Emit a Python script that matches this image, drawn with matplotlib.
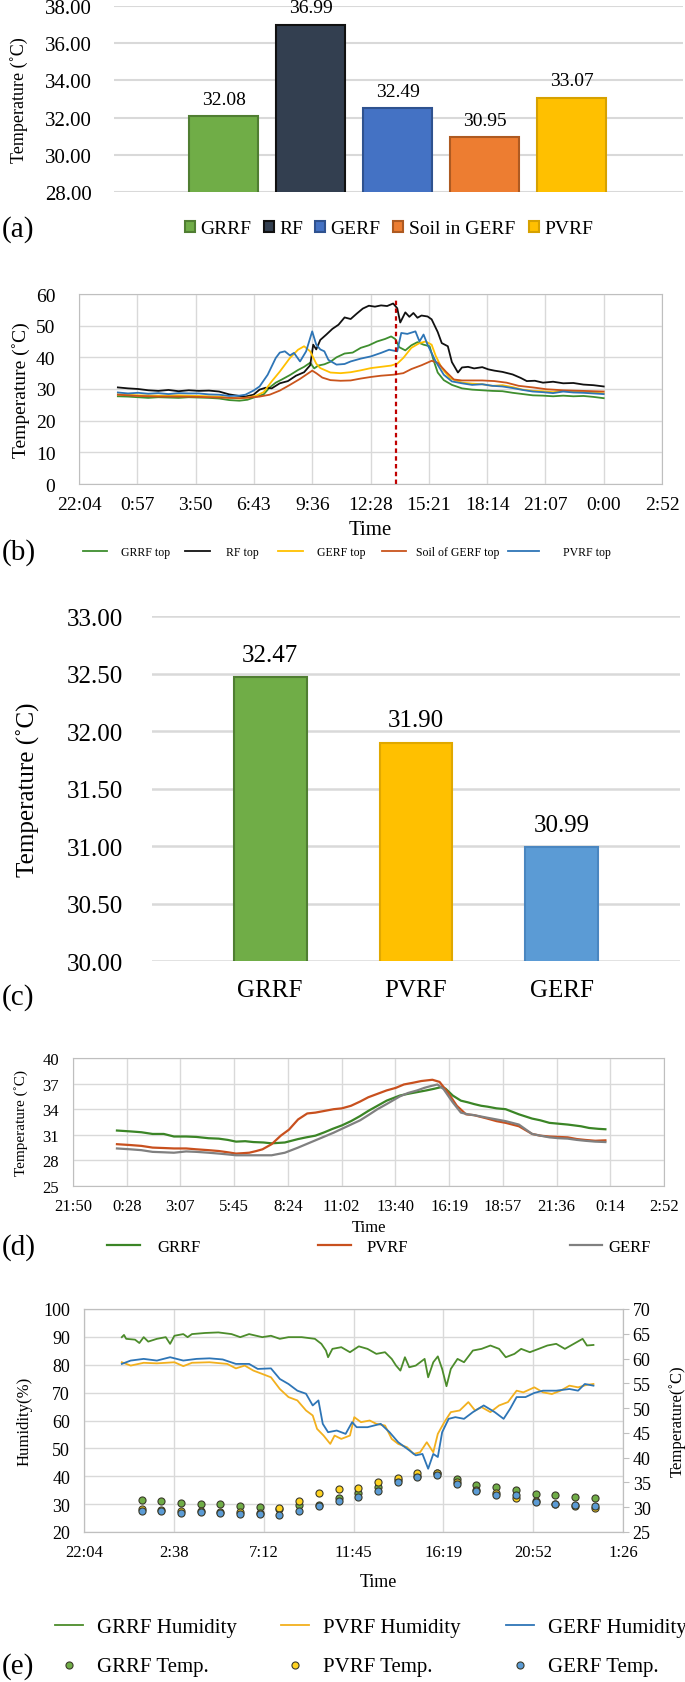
import numpy as np
import matplotlib
matplotlib.use('Agg')
import matplotlib.pyplot as plt

plt.rcParams['font.family'] = ['Liberation Serif', 'DejaVu Serif']

W, H = 685, 1683

# ---- (a) mean roof surface temperature ----
a_names = ['GRRF', 'RF', 'GERF', 'Soil in GERF', 'PVRF']
a_values = [32.08, 36.99, 32.49, 30.95, 33.07]
a_yticks = [28, 30, 32, 34, 36, 38]

# ---- (b) top temperatures over one day (hours after 0:00) ----
b_names = ['GRRF top', 'RF top', 'GERF top', 'Soil of GERF top', 'PVRF top']
b_grrf_h = [0, 0.5, 1, 1.5, 2, 2.5, 3, 3.5, 4, 4.5, 5, 5.5, 6,
            6.4, 6.8, 7.2, 7.5, 7.8, 8.1, 8.5, 8.9, 9.2, 9.5,
            9.7, 9.9, 10.2, 10.5, 10.8, 11.2, 11.6, 12.0, 12.4, 12.8,
            13.2, 13.5, 13.7, 13.9, 14.2, 14.5, 14.8, 15.1, 15.4, 15.6,
            15.8, 16.1, 16.5, 17.0,
            17.5, 18.0, 18.5, 19.0, 19.5, 20.0, 20.5, 21.0, 21.5, 22.0, 22.5, 23.0, 23.5, 24.0]
b_grrf = [27.7, 27.6, 27.4, 27.2, 27.4, 27.3, 27.2, 27.4, 27.3, 27.2, 27.0, 26.5, 26.3,
          26.6, 27.5, 28.3, 30.5, 32.0, 33.0, 34.4, 36.0, 37.0, 38.3,
          36.5, 37.4, 37.8, 38.6, 40.0, 41.2, 41.5, 43.0, 43.8, 45.0,
          45.8, 46.6, 45.8, 43.2, 42.2, 43.8, 44.8, 44.0, 43.5, 39.0,
          35.2, 32.8, 31.3, 30.2,
          29.8, 29.6, 29.4, 29.3, 28.8, 28.4, 28.0, 27.9, 27.7, 27.9, 27.7, 27.8, 27.5, 27.1]
b_rf_h = [0, 0.5, 1.0, 1.5, 2.0, 2.5, 3.0, 3.5, 4.0, 4.5,
          5.0, 5.5, 6.0, 6.3, 6.7, 7.0, 7.3, 7.6, 8.0, 8.4,
          8.8, 9.2, 9.5, 9.65, 9.8, 10.0, 10.3, 10.6, 10.9, 11.2,
          11.5, 11.8, 12.1, 12.4, 12.7, 13.0, 13.3, 13.6, 13.8, 13.95,
          14.2, 14.4, 14.6, 14.8, 15.0, 15.3, 15.5, 15.8, 16.0, 16.3,
          16.5, 16.8, 17.0, 17.3, 17.6, 18.0, 18.3, 18.6, 19.0, 19.5,
          19.9, 20.2, 20.6, 21.0, 21.5, 22.0, 22.5, 23.0, 23.5, 24.0]
b_rf = [30.5, 30.2, 30.0, 29.6, 29.4, 29.7, 29.3, 29.6, 29.4, 29.5,
        29.2, 28.3, 27.8, 27.6, 28.2, 29.8, 30.4, 30.2, 31.8, 32.5,
        34.2, 35.3, 37.5, 44.0, 42.5, 45.5, 47.2, 49.0, 50.3, 52.6,
        52.1, 53.8, 55.4, 56.3, 56.0, 56.4, 56.2, 57.0, 55.5, 51.0,
        54.2, 52.8, 54.0, 52.5, 53.2, 52.9, 52.0, 48.0, 44.5, 43.5,
        38.5, 35.2, 36.8, 37.0, 36.5, 36.9, 36.2, 35.8, 35.4, 34.6,
        33.5, 32.5, 32.6, 32.0, 32.3, 31.8, 31.9, 31.4, 31.2, 30.8]
b_gerf_h = [0, 1, 2, 3, 4, 5, 5.5, 6, 6.4, 6.8,
            7.2, 7.6, 8.0, 8.5, 8.9, 9.2, 9.5, 9.8, 10.0, 10.5,
            11.0, 11.5, 12.0, 12.5, 13.0, 13.5, 13.8, 14.1, 14.5, 14.9,
            15.2, 15.5, 15.7, 16.0, 16.4, 17.0, 17.5, 18.0, 18.5, 19.0,
            19.5, 20.0, 20.5, 21.0, 21.5, 22.0, 22.5, 23.0, 23.5, 24.0]
b_gerf = [28.3, 28.0, 27.9, 28.0, 27.8, 27.6, 27.2, 27.0, 27.3, 27.8,
          29.0, 32.4, 35.5, 39.8, 42.4, 43.5, 41.9, 38.0, 36.6, 35.2,
          35.0, 35.3, 35.9, 36.6, 37.0, 37.4, 38.0, 39.8, 43.0, 44.5,
          45.0, 44.0, 40.5, 36.6, 33.4, 32.0, 31.7, 31.5, 31.0, 31.2,
          30.6, 29.8, 29.4, 29.3, 29.0, 29.4, 29.2, 29.0, 28.9, 28.6]
b_soil_h = [0, 1, 2, 3, 4, 5, 6,
            6.5, 7, 7.5, 8, 8.5, 9, 9.3, 9.6, 9.8, 10.1,
            10.5, 11, 11.5, 12, 12.5, 13, 13.6, 14.1, 14.5, 15,
            15.5, 15.8, 16.2, 16.6, 17, 18, 18.6, 19.2, 19.8, 20.5,
            21.2, 22, 23, 24]
b_soil = [28.2, 27.8, 27.6, 27.6, 27.5, 27.3, 27.1,
          27.3, 27.6, 28.2, 29.5, 31.3, 33.2, 34.5, 35.8, 35.0, 33.6,
          32.8, 32.6, 32.7, 33.3, 33.8, 34.2, 34.5, 35.0, 36.3, 37.5,
          38.9, 38.3, 35.5, 33.0, 32.7, 32.7, 32.5, 32.0, 31.0, 30.5,
          29.9, 29.6, 29.4, 29.2]
b_pvrf_h = [0, 0.5, 1, 1.5, 2, 2.5, 3, 3.5, 4, 4.5, 5, 5.5, 6,
            6.3, 6.7, 7.0, 7.4, 7.8, 8.0, 8.25, 8.5, 8.7, 9.0,
            9.3, 9.6, 9.8, 10.0, 10.2, 10.4, 10.8, 11.2, 11.5, 12.0,
            12.5, 13.0, 13.4, 13.8, 14.0, 14.3, 14.7, 14.9, 15.1, 15.3,
            15.7, 16.1, 16.5, 17.0,
            17.5, 18.0, 18.5, 19.0, 19.5, 20.0, 20.5, 21.0, 21.5, 22.0, 22.5, 23.0, 23.5, 24.0]
b_pvrf = [28.9, 28.6, 28.8, 28.5, 28.7, 28.4, 28.7, 28.6, 28.6, 28.3, 28.2, 27.8, 27.9,
          28.2, 29.5, 30.8, 34.5, 39.8, 41.5, 41.9, 40.6, 41.4, 38.7,
          41.9, 48.2, 44.0, 42.5, 41.9, 39.2, 37.7, 37.9, 38.7, 39.6,
          40.3, 41.4, 42.4, 41.9, 47.7, 47.4, 48.2, 45.0, 47.2, 44.0,
          38.7, 34.5, 32.4, 31.8,
          31.3, 31.5, 31.0, 30.8, 30.3, 29.7, 29.2, 29.0, 28.7, 29.2, 28.9, 28.8, 28.6, 28.4]
b_event_h = 13.75
b_xlabels = ['22:04', '0:57', '3:50', '6:43', '9:36', '12:28', '15:21',
             '18:14', '21:07', '0:00', '2:52']

# ---- (c) mean temperature ----
c_names = ['GRRF', 'PVRF', 'GERF']
c_values = [32.47, 31.90, 30.99]
c_yticks = [30.0, 30.5, 31.0, 31.5, 32.0, 32.5, 33.0]

# ---- (d) indoor temperature ----
d_names = ['GRRF', 'PVRF', 'GERF']
d_grrf_h = [0, 0.65, 1.2, 1.75, 2.3, 2.8, 3.4, 3.9, 4.5, 5.0,
            5.45, 5.85, 6.3, 6.7, 7.2, 7.6, 8.25, 8.9, 9.3, 9.75,
            10.2, 10.6, 11.05, 11.5, 11.95, 12.35, 12.8, 13.25, 13.9, 14.3,
            14.75, 15.2, 15.6, 15.95, 16.15, 16.5, 16.9, 17.25, 17.55, 17.9,
            18.2, 18.65, 19.1, 19.75, 20.4, 20.8, 21.25, 21.7, 22.15, 22.8,
            23.2, 23.65, 24.0]
d_grrf = [31.5, 31.4, 31.3, 31.1, 31.1, 30.8, 30.8, 30.75, 30.6, 30.55,
          30.4, 30.2, 30.25, 30.15, 30.1, 30.0, 30.1, 30.5, 30.7, 30.9,
          31.3, 31.7, 32.1, 32.6, 33.2, 33.8, 34.4, 35.0, 35.6, 35.8,
          36.0, 36.2, 36.4, 36.6, 36.4, 35.6, 35.0, 34.8, 34.6, 34.4,
          34.3, 34.1, 34.0, 33.4, 32.9, 32.7, 32.4, 32.3, 32.2, 32.0,
          31.8, 31.7, 31.65]
d_pvrf_h = [0, 0.65, 1.2, 1.75, 2.3, 2.8, 3.4, 3.9, 4.5, 5.0,
            5.45, 5.85, 6.2, 6.5, 6.85, 7.15, 7.6, 8.05, 8.45, 8.9,
            9.35, 9.75, 10.2, 10.65, 11.05, 11.5, 11.95, 12.35, 12.8, 13.25,
            13.7, 14.1, 14.55, 14.95, 15.5, 15.85, 16.25, 16.7, 17.15, 17.55,
            18.2, 18.65, 19.1, 19.75, 20.4, 20.8, 21.25, 21.7, 22.15, 22.6,
            23.0, 23.5, 24.0]
d_pvrf = [29.9, 29.8, 29.7, 29.5, 29.45, 29.4, 29.4, 29.3, 29.2, 29.1,
          28.95, 28.8, 28.85, 28.9, 29.1, 29.3, 29.9, 30.9, 31.6, 32.8,
          33.5, 33.6, 33.8, 34.0, 34.1, 34.4, 34.9, 35.4, 35.8, 36.2,
          36.5, 36.9, 37.1, 37.3, 37.45, 37.2, 36.0, 34.4, 33.4, 33.3,
          32.9, 32.6, 32.4, 32.0, 31.1, 30.9, 30.8, 30.75, 30.7, 30.5,
          30.4, 30.3, 30.35]
d_gerf_h = [0, 0.65, 1.2, 1.75, 2.3, 2.8, 3.4, 3.9, 4.5, 5.0,
            5.45, 5.85, 6.3, 6.7, 7.2, 7.6, 8.25, 8.9, 9.3, 9.75,
            10.2, 10.65, 11.05, 11.5, 11.95, 12.35, 12.8, 13.25, 13.9, 14.3,
            14.75, 15.1, 15.4, 15.75, 16.05, 16.5, 16.9, 17.25, 17.55, 18.2,
            18.65, 19.1, 19.75, 20.4, 20.8, 21.25, 21.7, 22.15, 22.6, 23.0,
            23.5, 24.0]
d_gerf = [29.4, 29.3, 29.2, 29.0, 28.95, 28.9, 29.05, 29.0, 28.9, 28.8,
          28.7, 28.6, 28.6, 28.6, 28.6, 28.6, 28.9, 29.5, 29.9, 30.35,
          30.8, 31.25, 31.7, 32.2, 32.7, 33.3, 34.0, 34.6, 35.5, 35.9,
          36.2, 36.5, 36.7, 36.9, 36.35, 34.8, 33.6, 33.4, 33.3, 33.0,
          32.8, 32.6, 32.2, 31.1, 30.9, 30.7, 30.6, 30.55, 30.4, 30.3,
          30.2, 30.15]
d_xlabels = ['21:50', '0:28', '3:07', '5:45', '8:24', '11:02', '13:40',
             '16:19', '18:57', '21:36', '0:14', '2:52']

# ---- (e) humidity (left) and temperature (right) ----
e_grrf_h = [0, 0.11, 0.22, 0.67, 0.89, 1.11, 1.34, 1.78, 2.23, 2.45,
            2.67, 3.12, 3.34, 3.56, 4.23, 4.9, 5.57, 6.01, 6.46, 7.13,
            7.57, 8.02, 8.46, 9.13, 9.8, 10.13, 10.36, 10.47, 10.69, 11.14,
            11.58, 12.03, 12.47, 12.92, 13.36, 13.7, 13.92, 14.14, 14.37, 14.59,
            14.92, 15.37, 15.55, 15.81, 16.04, 16.26, 16.48, 16.7, 17.04, 17.37,
            17.82, 18.26, 18.71, 19.15, 19.49, 19.93, 20.27, 20.71, 21.16, 21.6,
            22.05, 22.49, 22.94, 23.39, 23.61, 23.94]
e_grrf_hum = [89.9, 90.7, 89.3, 89.0, 87.8, 89.9, 88.3, 89.3, 89.9, 87.5,
              90.4, 91.0, 89.9, 91.0, 91.4, 91.6, 91.0, 89.9, 91.0, 89.9,
              90.4, 89.3, 89.9, 89.9, 89.3, 87.5, 85.1, 82.7, 85.7, 86.3,
              84.5, 86.6, 85.7, 83.9, 84.5, 82.1, 79.7, 77.9, 82.7, 79.1,
              79.7, 82.1, 75.5, 80.9, 83.0, 78.5, 72.3, 78.5, 82.1, 80.9,
              85.1, 85.7, 86.9, 85.7, 82.7, 83.9, 85.7, 84.5, 85.7, 86.9,
              87.5, 85.7, 87.5, 89.3, 86.9, 87.1]
e_pvrf_h = [0, 0.45, 1.11, 1.78, 2.67, 3.12, 3.56, 4.45, 5.35, 5.79,
            6.24, 6.68, 7.13, 7.57, 8.02, 8.46, 8.91, 9.35, 9.69, 9.91,
            10.24, 10.58, 10.8, 11.14, 11.58, 11.8, 12.14, 12.58, 12.92, 13.36,
            13.7, 14.03, 14.48, 14.81, 15.14, 15.48, 15.81, 16.04, 16.37, 16.7,
            17.15, 17.59, 17.93, 18.26, 18.71, 19.15, 19.6, 20.04, 20.38, 20.94,
            21.38, 21.83, 22.27, 22.72, 23.16, 23.61, 23.94]
e_pvrf_hum = [80.9, 79.7, 80.7, 80.5, 80.9, 79.5, 80.7, 80.9, 80.3, 78.7,
              79.7, 77.9, 76.7, 75.5, 71.3, 68.4, 67.2, 63.6, 61.8, 57.0,
              54.6, 51.6, 54.6, 53.4, 54.6, 61.2, 59.4, 60.0, 58.8, 58.2,
              53.4, 51.6, 50.4, 48.0, 48.6, 52.2, 48.6, 55.2, 59.4, 63.0,
              63.6, 66.6, 63.6, 64.8, 63.0, 65.4, 66.6, 70.7, 70.1, 71.9,
              70.1, 69.5, 70.7, 72.5, 71.9, 72.8, 73.1]
e_gerf_h = [0, 0.45, 1.11, 1.78, 2.45, 3.12, 3.79, 4.45, 5.12, 5.79,
            6.46, 6.9, 7.57, 8.02, 8.46, 8.91, 9.35, 9.69, 9.98, 10.2,
            10.47, 10.91, 11.36, 11.69, 11.92, 12.47, 13.14, 13.59, 14.03, 14.59,
            14.92, 15.26, 15.55, 15.81, 16.04, 16.26, 16.59, 16.93, 17.37, 17.82,
            18.37, 18.93, 19.38, 19.71, 20.04, 20.49, 20.94, 21.38, 22.05, 22.72,
            23.16, 23.5, 23.94]
e_gerf_hum = [80.3, 81.5, 82.1, 81.5, 82.7, 81.5, 82.1, 82.3, 81.9, 80.3,
              80.3, 78.5, 78.7, 74.9, 73.1, 70.7, 69.6, 65.4, 67.2, 58.8,
              55.8, 56.4, 55.2, 59.4, 57.6, 57.6, 58.8, 55.8, 52.2, 49.3,
              47.5, 48.0, 42.7, 48.0, 46.9, 55.8, 60.6, 61.2, 60.6, 63.0,
              65.4, 63.0, 60.6, 64.2, 68.4, 68.4, 69.9, 70.7, 70.7, 71.3,
              70.7, 73.1, 72.5]
e_temp_h = [1, 2, 3, 4, 5, 6, 7, 8, 9, 10, 11, 12,
            13, 14, 15, 16, 17, 18, 19, 20, 21, 22, 23, 24]
e_grrf_temp = [31.5, 31.2, 30.8, 30.7, 30.6, 30.3, 30.0, 29.6, 30.4, 30.5, 31.9, 32.9,
               34.1, 35.4, 36.3, 37.0, 35.7, 34.5, 34.1, 33.5, 32.7, 32.4, 32.0, 31.9]
e_pvrf_temp = [29.6, 29.5, 29.2, 29.3, 29.1, 29.0, 28.9, 29.8, 31.2, 32.9, 33.6, 33.9,
               35.1, 35.9, 37.0, 37.0, 35.1, 33.4, 32.9, 31.9, 31.2, 30.7, 30.2, 29.9]
e_gerf_temp = [29.3, 29.2, 28.9, 29.0, 28.9, 28.7, 28.6, 28.5, 29.2, 30.2, 31.2, 32.1,
               33.2, 35.1, 36.0, 36.6, 34.7, 33.2, 32.5, 32.4, 31.0, 30.6, 30.4, 30.2]
e_xlabels = ['22:04', '2:38', '7:12', '11:45', '16:19', '20:52', '1:26']


def days(hours):
    # Excel time axis: day 1 starts at 0:00
    return 1 + np.asarray(hours) / 24.0


fig = plt.figure(figsize=(W / 100, H / 100), dpi=100)
fig.patch.set_facecolor('white')


def px_box(l, t, r, b):
    return [l / W, 1 - b / H, (r - l) / W, (b - t) / H]


def panel_tag(tag, y):
    fig.text(2 / W, 1 - y / H, tag, fontsize=21, ha='left', va='center')


def legend_at(handle, label, x, y, size, hl=1.5, pad=0.5, hh=0.7):
    fig.legend([handle], [label], loc='center left', bbox_to_anchor=(x / W, 1 - y / H),
               frameon=False, fontsize=size, handlelength=hl, handleheight=hh,
               handletextpad=pad, borderpad=0, borderaxespad=0, scatterpoints=1)


def boxed(ax):
    for s in ax.spines.values():
        s.set_color('#BFBFBF')
    ax.grid(True, color='#D9D9D9', lw=1.0)
    ax.set_axisbelow(True)


# ================= (a) =================
ax = fig.add_axes(px_box(114, 7, 683, 193))
xa = np.arange(len(a_names))
a_colors = ['#70AD47', '#333F50', '#4472C4', '#ED7D31', '#FFC000']
a_edges = ['#507E32', '#111111', '#2F528F', '#AE5A21', '#D6A100']
bars_a = ax.bar(xa, a_values, width=0.8, color=a_colors, edgecolor=a_edges, linewidth=1.5)
ax.set_ylim(28, 38)
ax.set_xlim(-1.26, 5.28)
ax.set_yticks(a_yticks)
ax.set_yticklabels([f'{v:.2f}' for v in a_yticks], fontsize=15)
ax.set_xticks([])
for s in ax.spines.values():
    s.set_visible(False)
ax.yaxis.grid(True, color='#D9D9D9', lw=1.5)
ax.set_axisbelow(True)
ax.tick_params(axis='y', length=0, pad=16)
for x, v in zip(xa, a_values):
    ax.annotate(f'{v:.2f}', (x, v), xytext=(0, 6), textcoords='offset points',
                ha='center', va='bottom', fontsize=14, annotation_clip=False)
ax.set_ylabel('Temperature (˚C)', fontsize=13)
ax.yaxis.set_label_coords(-0.151, 0.5)
panel_tag('(a)', 230)
for bar, name, x in zip(bars_a, a_names, [185, 264, 315, 393, 529]):
    legend_at(bar, name, x, 230, 14, hl=0.5, hh=0.5, pad=0.3)

# ================= (b) =================
ax = fig.add_axes(px_box(79, 295, 662, 485))
b_colors = ['#3E8E2E', '#111111', '#FFC000', '#C9541C', '#2E75B6']
b_series = [(b_grrf_h, b_grrf), (b_rf_h, b_rf), (b_gerf_h, b_gerf),
            (b_soil_h, b_soil), (b_pvrf_h, b_pvrf)]
b_lines = []
for (hh, vv), col in zip(b_series, b_colors):
    ln, = ax.plot(days(hh), vv, color=col, lw=1.3)
    b_lines.append(ln)
ax.axvline(days(b_event_h), ymax=0.97, color='#C00000', lw=1.6, ls=(0, (2, 1.5)))
ax.set_xlim(0.92, 2.12)
ax.set_ylim(0, 60)
ax.set_xticks(0.92 + 0.12 * np.arange(len(b_xlabels)))
ax.set_xticklabels(b_xlabels, fontsize=14)
ax.set_yticks(np.arange(0, 61, 10))
ax.tick_params(axis='both', length=0, labelsize=14)
ax.tick_params(axis='y', pad=17)
ax.tick_params(axis='x', pad=9)
boxed(ax)
ax.set_ylabel('Temperature (˚C)', fontsize=14)
ax.yaxis.set_label_coords(-0.084, 0.5)
ax.set_xlabel('Time', fontsize=15, va='center')
ax.xaxis.set_label_coords(0.5, -0.237)
panel_tag('(b)', 553)
b_leg = [(83, 2.0, 1.2), (185, 2.1, 1.35), (278, 2.1, 1.2), (382, 2.0, 0.9), (508, 2.6, 2.1)]
for ln, name, (x, hl, pad) in zip(b_lines, b_names, b_leg):
    legend_at(ln, name, x, 553, 8.5, hl=hl, pad=pad)

# ================= (c) =================
ax = fig.add_axes(px_box(152, 617, 680, 962))
xc = np.arange(len(c_names))
ax.bar(xc, c_values, width=0.5, color=['#70AD47', '#FFC000', '#5B9BD5'],
       edgecolor=['#507E32', '#E0A800', '#4A86C0'], linewidth=1.5)
ax.set_ylim(30, 33)
ax.set_xlim(-0.81, 2.81)
ax.set_yticks(c_yticks)
ax.set_yticklabels([f'{v:.2f}' for v in c_yticks], fontsize=18)
ax.set_xticks(xc)
ax.set_xticklabels(c_names, fontsize=18)
for s in ax.spines.values():
    s.set_visible(False)
ax.yaxis.grid(True, color='#D9D9D9', lw=1.8)
ax.set_axisbelow(True)
ax.tick_params(axis='y', length=0, pad=21)
ax.tick_params(axis='x', length=0, pad=13)
for x, v in zip(xc, c_values):
    ax.annotate(f'{v:.2f}', (x, v), xytext=(0, 8), textcoords='offset points',
                ha='center', va='bottom', fontsize=18)
ax.set_ylabel('Temperature (˚C)', fontsize=18)
ax.yaxis.set_label_coords(-0.212, 0.5)
panel_tag('(c)', 998)

# ================= (d) =================
ax = fig.add_axes(px_box(73, 1059, 664, 1187))
d_colors = ['#3B8526', '#C8501E', '#808080']
d_series = [(d_grrf_h, d_grrf), (d_pvrf_h, d_pvrf), (d_gerf_h, d_gerf)]
d_lines = []
for (hh, vv), col in zip(d_series, d_colors):
    ln, = ax.plot(days(hh), vv, color=col, lw=1.6)
    d_lines.append(ln)
ax.set_xlim(0.91, 2.12)
ax.set_ylim(25, 40)
ax.set_xticks(0.91 + 0.11 * np.arange(len(d_xlabels)))
ax.set_xticklabels(d_xlabels, fontsize=12)
ax.set_yticks(np.arange(25, 41, 3))
ax.tick_params(axis='both', length=0, labelsize=12)
ax.tick_params(axis='y', pad=10)
ax.tick_params(axis='x', pad=9)
boxed(ax)
ax.set_ylabel('Temperature (˚C)', fontsize=11)
ax.yaxis.set_label_coords(-0.076, 0.5)
ax.set_xlabel('Time', fontsize=12, va='center')
ax.xaxis.set_label_coords(0.5, -0.32)
panel_tag('(d)', 1248)
d_leg = [(107, 2.0, 1.0), (318, 2.0, 0.9), (570, 1.9, 0.4)]
for ln, name, (x, hl, pad) in zip(d_lines, d_names, d_leg):
    legend_at(ln, name, x, 1248, 12, hl=hl, pad=pad)

# ================= (e) =================
ax = fig.add_axes(px_box(84, 1310, 623, 1533))
ax2 = ax.twinx()
gh, = ax.plot(days(e_grrf_h), e_grrf_hum, color='#4C8C2B', lw=1.3)
ph, = ax.plot(days(e_pvrf_h), e_pvrf_hum, color='#F2B01E', lw=1.3)
bh, = ax.plot(days(e_gerf_h), e_gerf_hum, color='#2E75B6', lw=1.3)
gt = ax2.scatter(days(e_temp_h), e_grrf_temp, s=26, color='#70AD47', edgecolors='#3A3A2A', linewidths=0.8, zorder=3)
pt = ax2.scatter(days(e_temp_h), e_pvrf_temp, s=26, color='#FFD320', edgecolors='#3A3A2A', linewidths=0.8, zorder=4)
bt = ax2.scatter(days(e_temp_h), e_gerf_temp, s=26, color='#5B9BD5', edgecolors='#3A3A2A', linewidths=0.8, zorder=5)
ax.set_xlim(0.92, 2.06)
ax.set_ylim(20, 100)
ax2.set_ylim(25, 70)
ax.set_xticks(0.92 + 0.19 * np.arange(len(e_xlabels)))
ax.set_xticklabels(e_xlabels, fontsize=12)
ax.set_yticks(np.arange(20, 101, 10))
ax2.set_yticks(np.arange(25, 71, 5))
ax.tick_params(axis='both', length=0)
ax.tick_params(axis='y', pad=10, labelsize=13)
ax.tick_params(axis='x', pad=9)
ax2.tick_params(axis='y', length=4, color='#BFBFBF', pad=3, labelsize=13)
boxed(ax)
for s in ax2.spines.values():
    s.set_color('#BFBFBF')
ax.set_ylabel('Humidity(%)', fontsize=12)
ax.yaxis.set_label_coords(-0.096, 0.5)
ax2.set_ylabel('Temperature(˚C)', fontsize=12)
ax2.yaxis.set_label_coords(1.085, 0.5)
ax.set_xlabel('Time', fontsize=13, va='center')
ax.xaxis.set_label_coords(0.547, -0.224)
panel_tag('(e)', 1667)
for ln, name, x in zip([gh, ph, bh], ['GRRF Humidity', 'PVRF Humidity', 'GERF Humidity'], [55, 281, 506]):
    legend_at(ln, name, x, 1628, 15, hl=1.35, pad=0.67)
for sc, name, x in zip([gt, pt, bt], ['GRRF Temp.', 'PVRF Temp.', 'GERF Temp.'], [55, 281, 506]):
    legend_at(sc, name, x, 1667, 15, hl=1.35, pad=0.67)

fig.savefig('out.png', dpi=100, facecolor='white')
